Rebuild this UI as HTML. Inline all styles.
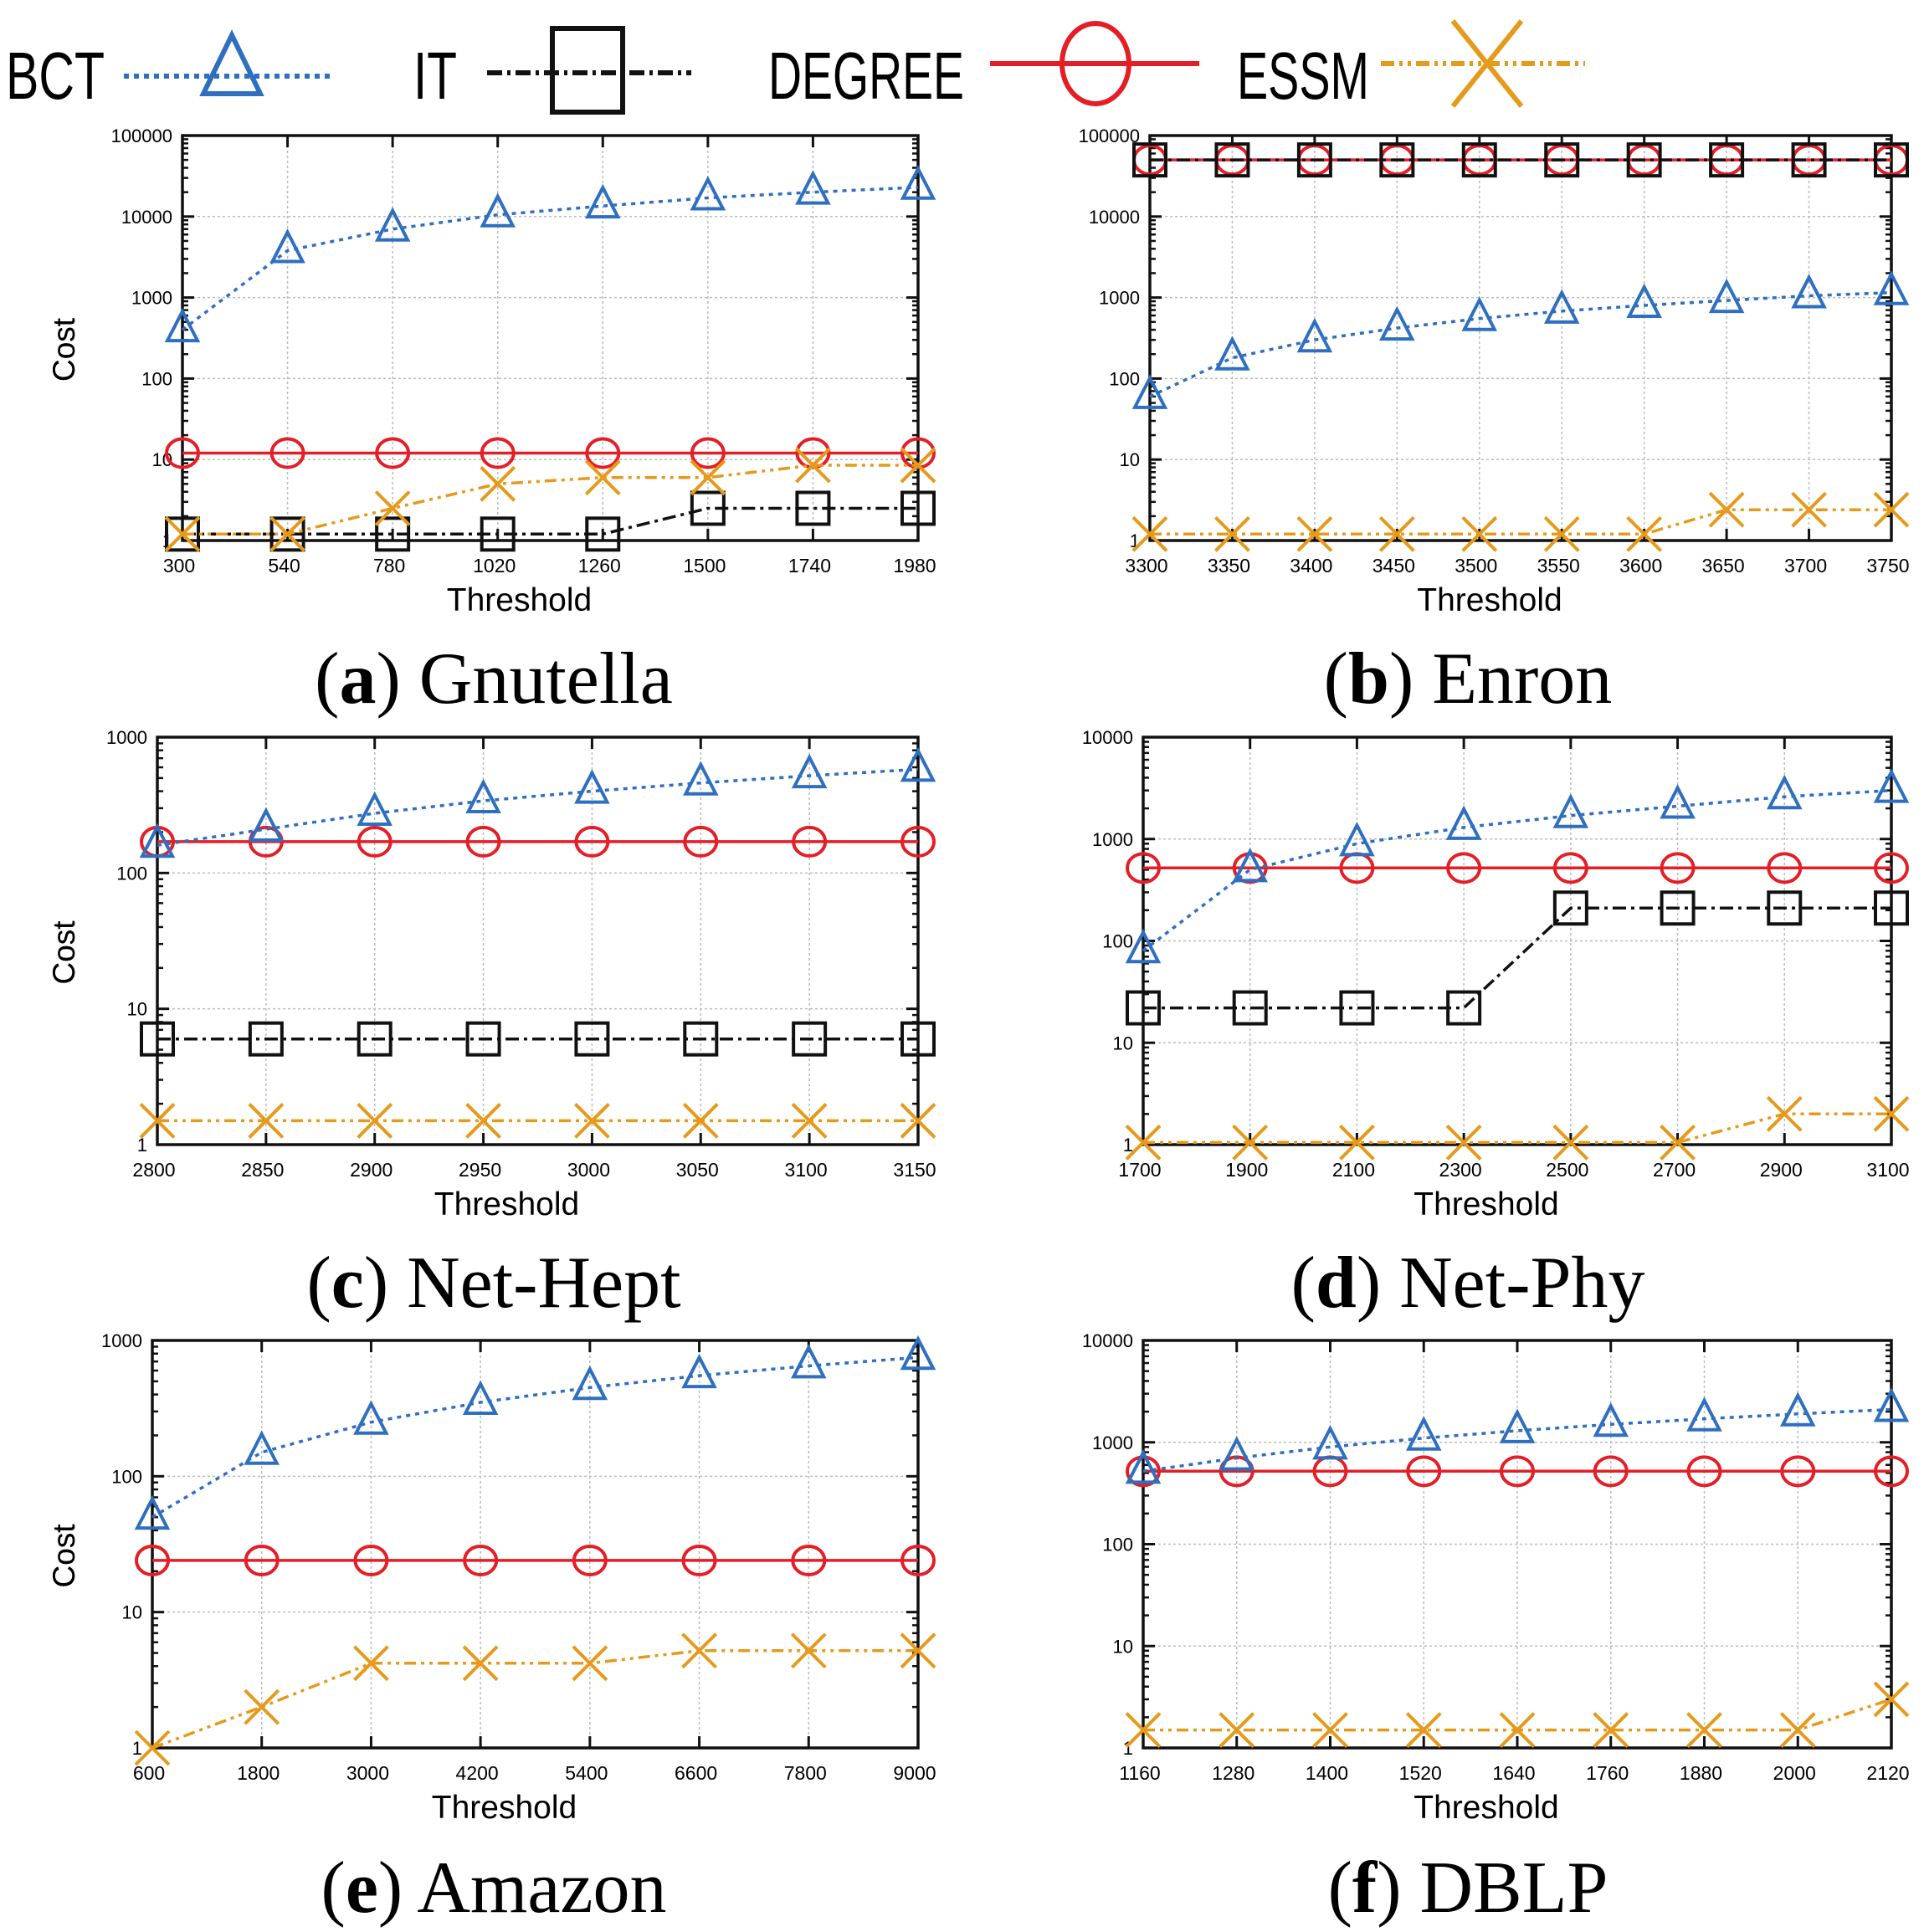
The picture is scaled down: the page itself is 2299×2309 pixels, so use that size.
<!DOCTYPE html>
<html><head><meta charset="utf-8"><style>
html,body{margin:0;padding:0;background:#fff;}
svg{display:block;}
text{font-family:"Liberation Sans Narrow","Liberation Sans",sans-serif;}
.cap{font-family:"Liberation Serif",serif;font-size:88px;}
</style></head><body>
<svg id="chart" width="2299" height="2309" viewBox="0 0 2299 2309" xmlns="http://www.w3.org/2000/svg">
<g id="legend">
  <g>
    <text x="7" y="118" font-size="80" textLength="118" lengthAdjust="spacingAndGlyphs">BCT</text>
    <line x1="148" y1="91" x2="396" y2="91" stroke="#2f6fbf" stroke-width="6" stroke-dasharray="6,6"/>
    <polygon points="277,42 243,112 311,112" fill="none" stroke="#2f6fbf" stroke-width="6"/>
  </g>
  <g>
    <text x="494" y="118" font-size="80" textLength="52" lengthAdjust="spacingAndGlyphs">IT</text>
    <line x1="582" y1="87" x2="826" y2="87" stroke="#111" stroke-width="6" stroke-dasharray="18,6,4,6"/>
    <rect x="660" y="34" width="84" height="100" fill="none" stroke="#111" stroke-width="6"/>
  </g>
  <g>
    <text x="918" y="118" font-size="80" textLength="234" lengthAdjust="spacingAndGlyphs">DEGREE</text>
    <line x1="1183" y1="76" x2="1433" y2="76" stroke="#e41e26" stroke-width="6"/>
    <ellipse cx="1309" cy="76" rx="40" ry="48" fill="none" stroke="#e41e26" stroke-width="6"/>
  </g>
  <g>
    <text x="1478" y="118" font-size="80" textLength="158" lengthAdjust="spacingAndGlyphs">ESSM</text>
    <line x1="1650" y1="76" x2="1894" y2="76" stroke="#e59a1c" stroke-width="6" stroke-dasharray="16,6,4,6,4,6"/>
    <line x1="1736" y1="25" x2="1818" y2="127" stroke="#e59a1c" stroke-width="6"/>
    <line x1="1818" y1="25" x2="1736" y2="127" stroke="#e59a1c" stroke-width="6"/>
  </g>
</g>
</svg>
<script>
// Panel (a) Gnutella
const aX = [300,540,780,1020,1260,1500,1740,1980];
const aBCT = [400,3800,7000,10500,13500,17000,20000,23000];
const aIT = [1.2,1.2,1.2,1.2,1.2,2.5,2.5,2.5];
const aDEG = [12,12,12,12,12,12,12,12];
const aESSM = [1.2,1.2,2.5,5,6,6,8.5,8.5];
// Panel (b) Enron
const bX = [3300,3350,3400,3450,3500,3550,3600,3650,3700,3750];
const bBCT = [60,180,300,420,550,680,800,920,1050,1150];
const bIT = [50000,50000,50000,50000,50000,50000,50000,50000,50000,50000];
const bDEG = [50000,50000,50000,50000,50000,50000,50000,50000,50000,50000];
const bESSM = [1.2,1.2,1.2,1.2,1.2,1.2,1.2,2.4,2.4,2.4];
// Panel (c) Net-Hept
const cX = [2800,2850,2900,2950,3000,3050,3100,3150];
const cBCT = [160,210,275,340,400,460,520,580];
const cIT = [6,6,6,6,6,6,6,6];
const cDEG = [170,170,170,170,170,170,170,170];
const cESSM = [1.5,1.5,1.5,1.5,1.5,1.5,1.5,1.5];
// Panel (d) Net-Phy
const dX = [1700,1900,2100,2300,2500,2700,2900,3100];
const dBCT = [80,500,900,1300,1700,2100,2600,3000];
const dIT = [22,22,22,22,210,210,210,210];
const dDEG = [520,520,520,520,520,520,520,520];
const dESSM = [1.05,1.05,1.05,1.05,1.05,1.05,2,2];
// Panel (e) Amazon
const eX = [600,1800,3000,4200,5400,6600,7800,9000];
const eBCT = [50,150,250,350,450,550,650,750];
const eDEG = [24,24,24,24,24,24,24,24];
const eESSM = [1,2,4.2,4.2,4.2,5.2,5.2,5.2];
// Panel (f) DBLP
const fX = [1160,1280,1400,1520,1640,1760,1880,2000,2120];
const fBCT = [520,700,900,1100,1300,1500,1700,1900,2100];
const fDEG = [520,520,520,520,520,520,520,520,520];
const fESSM = [1.5,1.5,1.5,1.5,1.5,1.5,1.5,1.5,3];

const captionsLetters = ['a','b','c','d','e','f'];
const captionsNames = ['Gnutella','Enron','Net-Hept','Net-Phy','Amazon','DBLP'];

const NS = 'http://www.w3.org/2000/svg';
const svg = document.getElementById('chart');
function mk(tag, attrs, parent){ const e=document.createElementNS(NS,tag); for(const k in attrs) e.setAttribute(k,attrs[k]); (parent||svg).appendChild(e); return e; }

const panels = [
 {L:218,R:1097,T:162,B:646,x:aX,yMaxExp:5,series:{bct:aBCT,it:aIT,deg:aDEG,essm:aESSM},cx:590},
 {L:1374,R:2260,T:162,B:646,x:bX,yMaxExp:5,series:{bct:bBCT,it:bIT,deg:bDEG,essm:bESSM},cx:1754},
 {L:188,R:1097,T:881,B:1368,x:cX,yMaxExp:3,series:{bct:cBCT,it:cIT,deg:cDEG,essm:cESSM},cx:590},
 {L:1366,R:2260,T:881,B:1368,x:dX,yMaxExp:4,series:{bct:dBCT,it:dIT,deg:dDEG,essm:dESSM},cx:1754},
 {L:182,R:1097,T:1602,B:2089,x:eX,yMaxExp:3,series:{bct:eBCT,deg:eDEG,essm:eESSM},cx:590},
 {L:1366,R:2260,T:1602,B:2089,x:fX,yMaxExp:4,series:{bct:fBCT,deg:fDEG,essm:fESSM},cx:1754}
];
const styles = {
 bct:{c:'#2f6fbf',dash:'5,6'},
 it:{c:'#111',dash:'16,6,4,6'},
 deg:{c:'#e41e26',dash:''},
 essm:{c:'#e59a1c',dash:'14,6,4,6,4,6'}
};
const order = ['deg','it','essm','bct'];

panels.forEach((p,pi)=>{
  const g = mk('g',{});
  
  
  const n = p.x.length;
  const xs = i => p.L + (p.R-p.L)*(p.x[i]-p.x[0])/(p.x[n-1]-p.x[0]);
  const ys = v => p.B - (p.B-p.T)*Math.log10(v)/p.yMaxExp;
  for(let i=0;i<n;i++){
    const gl = mk('line',{x1:xs(i),x2:xs(i),y1:p.T,y2:p.B,stroke:'#bbb','stroke-width':1.5,'stroke-dasharray':'3,3'},g);
    
    
    mk('line',{x1:xs(i),x2:xs(i),y1:p.B,y2:p.B-14,stroke:'#111','stroke-width':3},g);
    mk('line',{x1:xs(i),x2:xs(i),y1:p.T,y2:p.T+14,stroke:'#111','stroke-width':3},g);
    const t = mk('text',{x:xs(i)-4,y:p.B+38,'font-size':23,'text-anchor':'middle'},g);
    t.textContent = p.x[i];
    
    
  }
  for(let e=0;e<=p.yMaxExp;e++){
    const y = ys(Math.pow(10,e));
    if(e>0&&e<p.yMaxExp){
      const gl = mk('line',{x1:p.L,x2:p.R,y1:y,y2:y,stroke:'#bbb','stroke-width':1.5,'stroke-dasharray':'3,3'},g);
      
      
    }
    mk('line',{x1:p.L,x2:p.L+14,y1:y,y2:y,stroke:'#111','stroke-width':3},g);
    mk('line',{x1:p.R,x2:p.R-14,y1:y,y2:y,stroke:'#111','stroke-width':3},g);
    if(e<p.yMaxExp){
      for(let m=2;m<=9;m++){
        const yy = ys(m*Math.pow(10,e));
        mk('line',{x1:p.L,x2:p.L+7,y1:yy,y2:yy,stroke:'#111','stroke-width':2.5},g);
        mk('line',{x1:p.R,x2:p.R-7,y1:yy,y2:yy,stroke:'#111','stroke-width':2.5},g);
      }
    }
    const t = mk('text',{x:p.L-12,y:y+8,'font-size':22,'text-anchor':'end'},g);
    t.textContent = String(Math.pow(10,e));
    
    
  }
  const frame = mk('rect',{x:p.L,y:p.T,width:p.R-p.L,height:p.B-p.T,fill:'none',stroke:'#111','stroke-width':3.5},g);
  
  
  const xt = mk('text',{x:(p.L+p.R)/2-37,y:p.B+84,'font-size':39,'text-anchor':'middle'},g);
  xt.textContent='Threshold';
  
  
  const yc=(p.T+p.B)/2+14;
  const yt = mk('text',{x:0,y:0,'font-size':37,'text-anchor':'middle',transform:'translate(89,'+yc+') rotate(-90)'},g);
  yt.textContent='Cost';
  
  
  order.forEach(k=>{
    const vals = p.series[k]; if(!vals) return;
    const st = styles[k];
    const sg = mk('g',{},g);
    
    
    let d='';
    vals.forEach((v,i)=>{ d += (i?'L':'M')+xs(i).toFixed(1)+','+ys(v).toFixed(1); });
    const ln = mk('path',{d:d,fill:'none',stroke:st.c,'stroke-width':3.5,'stroke-dasharray':st.dash},sg);
    
    
    vals.forEach((v,i)=>{
      const x=xs(i), y=ys(v); let m;
      if(k==='bct') m = mk('polygon',{points:(x)+','+(y-22)+' '+(x-18)+','+(y+13)+' '+(x+18)+','+(y+13),fill:'none',stroke:st.c,'stroke-width':4},sg);
      else if(k==='it') m = mk('rect',{x:x-19,y:y-19,width:38,height:38,fill:'none',stroke:st.c,'stroke-width':4},sg);
      else if(k==='deg') m = mk('ellipse',{cx:x,cy:y,rx:19,ry:17,fill:'none',stroke:st.c,'stroke-width':4},sg);
      else { m = mk('path',{d:'M'+(x-20)+','+(y-20)+'L'+(x+20)+','+(y+20)+'M'+(x+20)+','+(y-20)+'L'+(x-20)+','+(y+20),fill:'none',stroke:st.c,'stroke-width':4},sg); }
      
      
    });
  });
  const capY = [840,840,1562,1562,2285,2285][pi];
  const cap = mk('text',{x:p.cx,y:capY,'text-anchor':'middle',class:'cap'},g);
  
  
  const b1 = mk('tspan',{},cap); b1.textContent='(';
  const b2 = mk('tspan',{'font-weight':'bold'},cap); b2.textContent=captionsLetters[pi];
  const b3 = mk('tspan',{},cap); b3.textContent=') '+captionsNames[pi];
});
</script>
</body></html>
